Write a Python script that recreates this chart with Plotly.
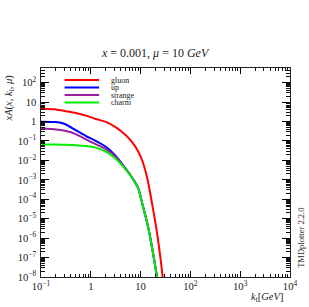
import plotly.graph_objects as go

kt = [0.1, 0.2, 0.3, 0.5, 0.8, 1.25, 2, 3.2, 5, 7, 9, 11, 14, 18, 21, 25, 28, 31]
gluon = [4.47, 4.17, 3.47, 2.75, 2.0, 1.35, 0.955, 0.50, 0.20, 0.076, 0.028, 8.5e-3,
         8.7e-4, 2.6e-5, 2.5e-6, 1.0e-7, 7.9e-9, 6.3e-10]
up = [0.98, 0.93, 0.74, 0.355, 0.178, 0.10, 0.050, 0.0166, 3.8e-3, 1.12e-3, 3.6e-4,
      5.0e-5, 4.3e-6, 1.4e-7, 1.3e-8, 1e-9, 1e-10, 1e-11]
strange = [0.43, 0.39, 0.33, 0.224, 0.12, 0.068, 0.038, 0.0148, 3.6e-3, 1.1e-3, 3.55e-4,
           4.9e-5, 4.25e-6, 1.4e-7, 1.28e-8, 1e-9, 1e-10, 1e-11]
charm = [0.066, 0.065, 0.063, 0.060, 0.054, 0.045, 0.028, 0.0117, 3.4e-3, 1.07e-3, 3.5e-4,
         4.8e-5, 4.2e-6, 1.4e-7, 1.26e-8, 1e-9, 1e-10, 1e-11]

names = ["gluon", "up", "strange", "charm"]
series = [gluon, up, strange, charm]
colors = ["#ff0000", "#0000ff", "#9a1fa0", "#00ee00"]

x_decades = [-1, 0, 1, 2, 3]
y_decades = [-8, -7, -6, -5, -4, -3, -2, -1, 0, 1, 2]
mantissas = [2, 3, 4, 5, 6, 7, 8, 9]
x_minor = [m * 10.0 ** d for d in x_decades for m in mantissas]
y_minor = [m * 10.0 ** d for d in y_decades for m in mantissas]

XR = [-1, 4]
YR = [-8, 2.75]
FONT = "Liberation Serif"
fig = go.Figure()
for n, s, c in zip(names, series, colors):
    fig.add_trace(go.Scatter(x=kt, y=s, mode="lines", name=n,
                             line=dict(color=c, width=2, shape="spline", smoothing=0.6),
                             showlegend=False))
# invisible trace to activate the minor-tick overlay axes
fig.add_trace(go.Scatter(x=[1], y=[1], xaxis="x2", yaxis="y2", mode="markers",
                         marker=dict(opacity=0), hoverinfo="skip", showlegend=False))

axcommon = dict(type="log", showgrid=False, zeroline=False, showline=True,
                linecolor="#222", linewidth=1, ticks="inside", tickwidth=1,
                tickcolor="#000", mirror="allticks", dtick=1, exponentformat="power",
                tickfont=dict(family=FONT, size=8.5, color="#222"))
fig.update_xaxes(range=XR, ticklen=6, **axcommon)
fig.update_yaxes(range=YR, ticklen=8, ticklabelstandoff=2, **axcommon)

minorcommon = dict(type="log", showgrid=False, zeroline=False, showline=False,
                   ticks="inside", tickcolor="#111", tickwidth=1,
                   mirror="allticks", showticklabels=False, tickmode="array")
fig.update_layout(
    xaxis2=dict(range=XR, overlaying="x", anchor="y2", side="bottom",
                tickvals=x_minor, ticklen=3, **minorcommon),
    yaxis2=dict(range=YR, overlaying="y", anchor="x2", side="left",
                tickvals=y_minor, ticklen=4, **minorcommon),
)

# legend (manual, compact)
x0, w, h = 41, 253, 209
def px(xp):
    return (xp - x0) / w
def py(yp):
    return (277 - yp) / h
rows = [80, 87.5, 95, 102.5]
for n, c, r in zip(names, colors, rows):
    fig.add_shape(type="line", xref="paper", yref="paper", x0=px(65), x1=px(100),
                  y0=py(r), y1=py(r), line=dict(color=c, width=2))
    fig.add_annotation(xref="paper", yref="paper", x=px(110), y=py(r), text=n,
                       showarrow=False, xanchor="left", yanchor="middle",
                       font=dict(family=FONT, size=8, color="#222"))

fig.add_annotation(xref="paper", yref="paper", x=px(157), y=py(53),
                   text="<i>x</i> = 0.001, <i>μ</i> = 10 <i>GeV</i>", showarrow=False,
                   xanchor="center", yanchor="middle",
                   font=dict(family=FONT, size=12, color="#222"))
fig.add_annotation(xref="paper", yref="paper", x=px(8), y=py(98),
                   text="<i>xA</i>(<i>x</i>, <i>k</i><sub>t</sub>, <i>μ</i>)", showarrow=False,
                   textangle=-90, xanchor="center", yanchor="middle",
                   font=dict(family=FONT, size=10.5, color="#222"))
fig.add_annotation(xref="paper", yref="paper", x=px(289), y=py(297),
                   text="<i>k</i><sub>t</sub>[<i>GeV</i>]", showarrow=False,
                   xanchor="right", yanchor="middle",
                   font=dict(family=FONT, size=10.5, color="#222"))
fig.add_annotation(xref="paper", yref="paper", x=px(305), y=py(238),
                   text="TMDplotter 2.2.0", showarrow=False, textangle=-90,
                   xanchor="center", yanchor="middle",
                   font=dict(family=FONT, size=8.5, color="#222"))

fig.update_layout(width=309, height=307, margin=dict(l=41, r=15, t=68, b=30),
                  paper_bgcolor="white", plot_bgcolor="white", showlegend=False)
fig.write_html("out.html", config={"displayModeBar": False},
               post_script="document.body.style.margin='0';")
